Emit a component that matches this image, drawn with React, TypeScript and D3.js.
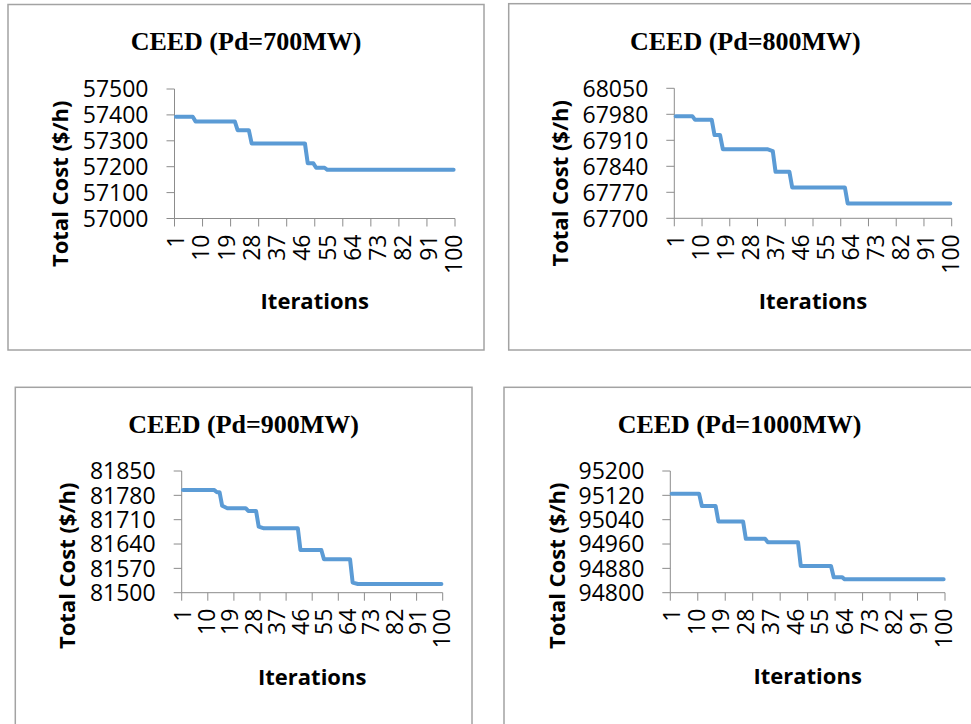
import { useEffect, useRef } from 'react';
import * as d3 from 'd3';

// convergence data, vertices of each step line (iteration, total cost)
const iter700 = [1, 7, 8, 22, 23, 27, 28, 47, 48, 50, 51, 54, 55, 100];
const cost700 = [57393, 57393, 57375, 57375, 57341, 57341, 57290, 57290, 57213, 57213, 57196, 57196, 57188, 57188];

const iter800 = [1, 7, 8, 14, 15, 17, 18, 34, 36, 37, 42, 43, 62, 63, 100];
const cost800 = [67975, 67975, 67965, 67965, 67924, 67924, 67886, 67886, 67881, 67825, 67825, 67783, 67783, 67740, 67740];

const iter900 = [1, 13, 14, 15, 16, 18, 25, 26, 29, 30, 32, 45, 46, 54, 55, 65, 66, 68, 100];
const cost900 = [81795, 81795, 81789, 81789, 81750, 81743, 81743, 81735, 81735, 81690, 81685, 81685, 81623, 81623, 81596, 81596, 81529, 81525, 81525];

const iter1000 = [1, 11, 12, 17, 18, 27, 28, 35, 36, 47, 48, 59, 60, 63, 64, 100];
const cost1000 = [95125, 95125, 95085, 95085, 95034, 95034, 94977, 94977, 94966, 94966, 94888, 94888, 94851, 94851, 94844, 94844];

const ticks700 = [57000, 57100, 57200, 57300, 57400, 57500];
const ticks800 = [67700, 67770, 67840, 67910, 67980, 68050];
const ticks900 = [81500, 81570, 81640, 81710, 81780, 81850];
const ticks1000 = [94800, 94880, 94960, 95040, 95120, 95200];

const iterLabels = [1, 10, 19, 28, 37, 46, 55, 64, 73, 82, 91, 100];
const titles = ['CEED (Pd=700MW)', 'CEED (Pd=800MW)', 'CEED (Pd=900MW)', 'CEED (Pd=1000MW)'];
const yTitle = 'Total Cost ($/h)';
const xTitle = 'Iterations';

const W = 971;
const H = 724;
const LINE = '#5B9BD5';
const AXIS = '#8c8c8c';
const FONT = "'Open Sans', 'Liberation Sans', sans-serif";

// layout of each panel in page pixels
const panels = [
  { frame: [8, 4.5, 484, 350], plot: [174.5, 455, 89, 218.5], titleY: 50, yt: [60, 183.8], xtY: 309, iters: iter700, costs: cost700, ticks: ticks700 },
  { frame: [508.7, 3.7, 982, 350], plot: [674.3, 951.7, 88.3, 218.3], titleY: 50, yt: [560.3, 183.3], xtY: 309, iters: iter800, costs: cost800, ticks: ticks800 },
  { frame: [15.3, 387.3, 472, 740], plot: [181.7, 442.7, 471, 592.7], titleY: 432.7, yt: [67, 565.8], xtY: 685, iters: iter900, costs: cost900, ticks: ticks900 },
  { frame: [504, 387.3, 975, 740], plot: [670.3, 945, 471, 592.7], titleY: 432.7, yt: [556.7, 565.8], xtY: 684, iters: iter1000, costs: cost1000, ticks: ticks1000 },
];

export default function App() {
  const svgRef = useRef<SVGSVGElement>(null);

  useEffect(() => {
    const svg = d3.select(svgRef.current);
    svg.selectAll('*').remove();

    panels.forEach((p, k) => {
      const [fx0, fy0, fx1, fy1] = p.frame;
      const [x0, x1, yTop, yBot] = p.plot;
      const g = svg.append('g');

      g.append('rect')
        .attr('x', fx0).attr('y', fy0)
        .attr('width', fx1 - fx0).attr('height', fy1 - fy0)
        .attr('fill', '#fff')
        .attr('stroke', '#a3a3a3')
        .attr('stroke-width', 1.5);

      const x = d3.scaleLinear().domain([0.5, 100.5]).range([x0, x1]);
      const y = d3.scaleLinear()
        .domain([p.ticks[0], p.ticks[p.ticks.length - 1]])
        .range([yBot, yTop]);

      // title
      g.append('text')
        .attr('x', (fx0 + fx1) / 2).attr('y', p.titleY)
        .attr('text-anchor', 'middle')
        .style('font-family', "'Liberation Serif', 'Times New Roman', serif")
        .style('font-weight', 'bold')
        .style('font-size', '26px')
        .text(titles[k]);

      // y axis
      g.append('line')
        .attr('x1', x0).attr('x2', x0).attr('y1', yTop).attr('y2', yBot)
        .attr('stroke', AXIS);
      p.ticks.forEach(t => {
        g.append('line')
          .attr('x1', x0 - 8).attr('x2', x0)
          .attr('y1', y(t)).attr('y2', y(t))
          .attr('stroke', AXIS);
        g.append('text')
          .attr('x', x0 - 26).attr('y', y(t))
          .attr('dy', '0.36em')
          .attr('text-anchor', 'end')
          .style('font-family', FONT)
          .style('font-size', '23px')
          .text(t);
      });

      // x axis
      g.append('line')
        .attr('x1', x0).attr('x2', x1).attr('y1', yBot).attr('y2', yBot)
        .attr('stroke', AXIS);
      d3.range(0.5, 101, 10).forEach(t => {
        g.append('line')
          .attr('x1', x(t)).attr('x2', x(t))
          .attr('y1', yBot).attr('y2', yBot + 8)
          .attr('stroke', AXIS);
      });
      iterLabels.forEach(v => {
        g.append('text')
          .attr('transform', `translate(${x(v)},${yBot + 16}) rotate(-90)`)
          .attr('dy', '0.36em')
          .attr('text-anchor', 'end')
          .style('font-family', FONT)
          .style('font-size', '23px')
          .text(v);
      });

      // axis titles
      g.append('text')
        .attr('transform', `translate(${p.yt[0]},${p.yt[1]}) rotate(-90)`)
        .attr('dy', '0.36em')
        .attr('text-anchor', 'middle')
        .style('font-family', FONT)
        .style('font-weight', 'bold')
        .style('font-size', '22px')
        .text(yTitle);
      g.append('text')
        .attr('x', (x0 + x1) / 2).attr('y', p.xtY)
        .attr('text-anchor', 'middle')
        .style('font-family', FONT)
        .style('font-weight', 'bold')
        .style('font-size', '22px')
        .text(xTitle);

      // convergence line
      const line = d3.line<number>()
        .x((d, i) => x(p.iters[i]))
        .y(d => y(d));
      g.append('path')
        .attr('d', line(p.costs))
        .attr('fill', 'none')
        .attr('stroke', LINE)
        .attr('stroke-width', 4)
        .attr('stroke-linejoin', 'round')
        .attr('stroke-linecap', 'round');
    });
  }, []);

  return (
    <svg
      ref={svgRef}
      width={W}
      height={H}
      style={{ position: 'absolute', left: 0, top: 0, background: '#fff' }}
    />
  );
}
